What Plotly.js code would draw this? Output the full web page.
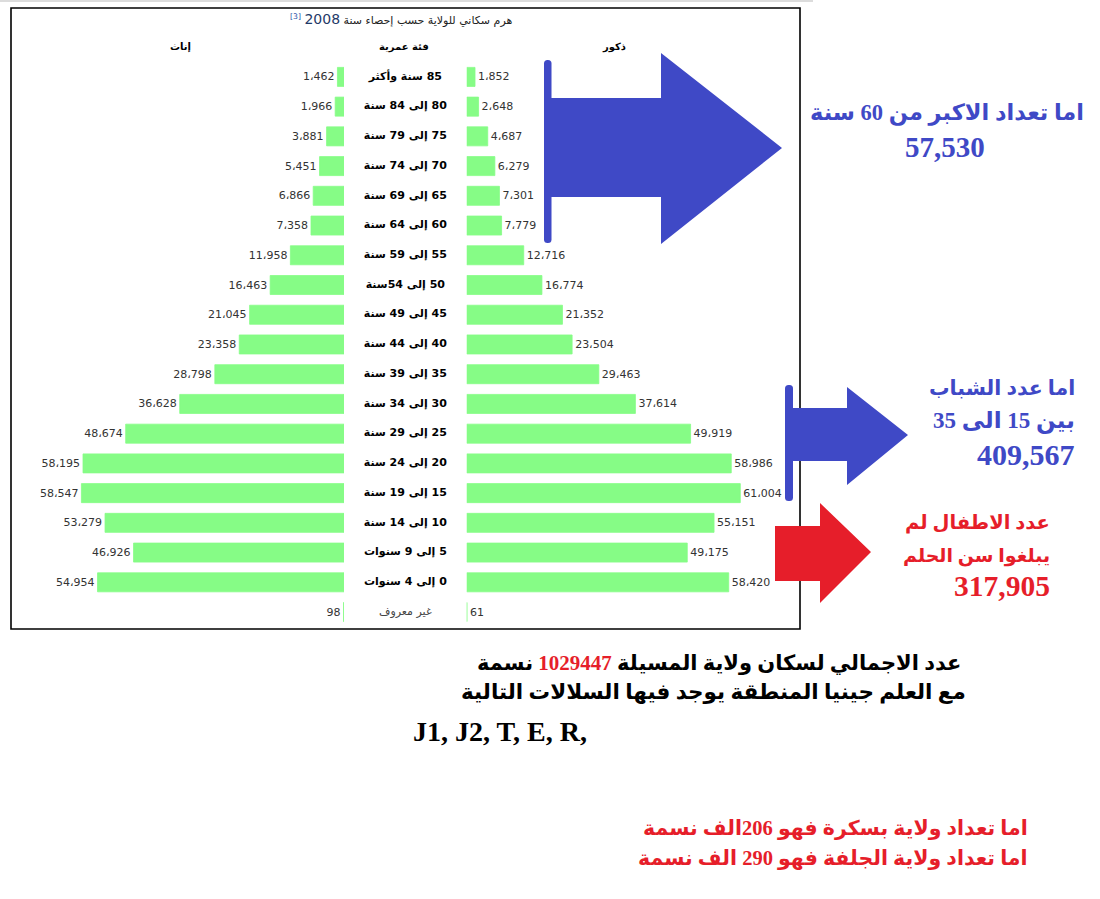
<!DOCTYPE html>
<html>
<head>
<meta charset="utf-8">
<script src="https://cdn.plot.ly/plotly-3.0.1.min.js"></script>
<style>html,body{margin:0;padding:0;background:#fff;}#chart{width:1100px;height:899px;}</style>
</head>
<body>
<div id="chart"></div>
<script>
// ---- data ----
const ageGroups = ['85 سنة وأكثر','80 إلى 84 سنة','75 إلى 79 سنة','70 إلى 74 سنة','65 إلى 69 سنة','60 إلى 64 سنة','55 إلى 59 سنة','50 إلى 54سنة','45 إلى 49 سنة','40 إلى 44 سنة','35 إلى 39 سنة','30 إلى 34 سنة','25 إلى 29 سنة','20 إلى 24 سنة','15 إلى 19 سنة','10 إلى 14 سنة','5 إلى 9 سنوات','0 إلى 4 سنوات','غير معروف'];
const females = [1462,1966,3881,5451,6866,7358,11958,16463,21045,23358,28798,36628,48674,58195,58547,53279,46926,54954,98];
const males   = [1852,2648,4687,6279,7301,7779,12716,16774,21352,23504,29463,37614,49919,58986,61004,55151,49175,58420,61];
const headerFemale = 'إناث';
const headerAge = 'فئة عمرية';
const headerMale = 'ذكور';
const chartTitle = 'هرم سكاني للولاية حسب إحصاء سنة';
const titleYear = '2008';
const titleRef = '[3]';

// ---- layout helpers ----
const W = 1100, H = 899;
const px = x => x / W;
const py = y => 1 - y / H;
const SCALE = 4.485 / 1000;   // pixels per person
const ROW0 = 76.9, ROWSTEP = 29.73;
const RLM = '\u200F';

const green = '#86fc86';
const blue = '#3f49c6';
const red = '#e61e2a';
const numFont = {family: 'DejaVu Sans, Tahoma, sans-serif', size: 11, color: '#333'};

const nMain = ageGroups.length - 1;
const rtl = s => RLM + s;

const traces = [
  {type:'bar', orientation:'h', y: ageGroups, x: females, xaxis:'x', yaxis:'y',
   marker:{color: green, line:{color: green, width: 0.8}}, width: 0.64,
   texttemplate:'%{x:,}', textposition:'outside', textfont: numFont,
   constraintext:'none', cliponaxis:false, hoverinfo:'none', showlegend:false},
  {type:'bar', orientation:'h', y: ageGroups, x: males, xaxis:'x2', yaxis:'y',
   marker:{color: green, line:{color: green, width: 0.8}}, width: 0.64,
   texttemplate:'%{x:,}', textposition:'outside', textfont: numFont,
   constraintext:'none', cliponaxis:false, hoverinfo:'none', showlegend:false},
  {type:'scatter', mode:'text', xaxis:'x3', yaxis:'y',
   y: ageGroups.slice(0, nMain), x: ageGroups.slice(0, nMain).map(() => 0.5),
   text: ageGroups.slice(0, nMain).map(rtl),
   textfont:{family:'DejaVu Sans, sans-serif', size:11, color:'#000', weight:'bold'},
   hoverinfo:'none', showlegend:false, cliponaxis:false},
  {type:'scatter', mode:'text', xaxis:'x3', yaxis:'y',
   y: ageGroups.slice(nMain), x: ageGroups.slice(nMain).map(() => 0.5),
   text: ageGroups.slice(nMain).map(rtl),
   textfont:{family:'DejaVu Sans, sans-serif', size:11, color:'#444'},
   hoverinfo:'none', showlegend:false, cliponaxis:false}
];

function rectRound(x0,y0,x1,y1,r){
  return `M${px(x0+r)},${py(y0)} L${px(x1-r)},${py(y0)} Q${px(x1)},${py(y0)} ${px(x1)},${py(y0+r)} ` +
         `L${px(x1)},${py(y1-r)} Q${px(x1)},${py(y1)} ${px(x1-r)},${py(y1)} L${px(x0+r)},${py(y1)} ` +
         `Q${px(x0)},${py(y1)} ${px(x0)},${py(y1-r)} L${px(x0)},${py(y0+r)} Q${px(x0)},${py(y0)} ${px(x0+r)},${py(y0)} Z`;
}
function poly(pts){
  return 'M' + pts.map(p => px(p[0]) + ',' + py(p[1])).join(' L') + ' Z';
}
const shapeBase = {type:'path', xref:'paper', yref:'paper', line:{width:0}, layer:'above'};

const shapes = [
  {type:'line', xref:'paper', yref:'paper', x0:px(0), x1:px(813), y0:py(1), y1:py(1), line:{color:'#dcdcdc', width:2}, layer:'below'},
  {type:'rect', xref:'paper', yref:'paper', x0:px(11), x1:px(800), y0:py(8), y1:py(629), line:{color:'#000', width:1.6}, layer:'below'},
  // big blue arrow
  Object.assign({}, shapeBase, {path: rectRound(544,60,551.5,243,3.5), fillcolor: blue}),
  Object.assign({}, shapeBase, {path: poly([[551,98],[661,98],[661,53],[782,148],[661,244],[661,197],[551,197]]), fillcolor: blue}),
  // second blue arrow
  Object.assign({}, shapeBase, {path: rectRound(785,385,793,501,3.5), fillcolor: blue}),
  Object.assign({}, shapeBase, {path: poly([[792,408],[847,408],[847,387],[908,435],[847,485],[847,461],[792,461]]), fillcolor: blue}),
  // red arrow
  Object.assign({}, shapeBase, {path: poly([[775,526],[820,526],[820,503],[871,552],[820,603],[820,581],[775,581]]), fillcolor: red})
];

function ann(text, x, y, font, xanchor){
  return {text, xref:'paper', yref:'paper', x:px(x), y:py(y), xanchor: xanchor || 'center', yanchor:'middle',
          showarrow:false, font, align: xanchor === 'right' ? 'right' : (xanchor === 'left' ? 'left' : 'center')};
}
const bigSerif = (size, color) => ({family:'Liberation Serif, Times New Roman, DejaVu Sans, serif', size, color, weight:'bold'});

const annotations = [
  ann(chartTitle + ' <span style="color:#1f3a68;font-size:14px">' + titleYear + '</span> <sup><span style="color:#1d4fa8">' + titleRef + '</span></sup>',
      401, 19, {family:'DejaVu Sans, sans-serif', size:11, color:'#222'}),
  ann(headerFemale, 180, 47, {family:'DejaVu Sans, sans-serif', size:10, color:'#000', weight:'bold'}),
  ann(headerAge, 404, 47, {family:'DejaVu Sans, sans-serif', size:10, color:'#000', weight:'bold'}),
  ann(headerMale, 614, 47, {family:'DejaVu Sans, sans-serif', size:10, color:'#000', weight:'bold'}),

  ann('اما تعداد الاكبر من 60 سنة', 947, 113, bigSerif(22.5, blue)),
  ann('57,530', 945, 147, bigSerif(29, blue)),

  ann('اما عدد الشباب', 1077, 388, bigSerif(20.5, blue), 'right'),
  ann('بين 15 الى 35', 1077, 421, bigSerif(23, blue), 'right'),
  ann('409,567', 1077, 454, bigSerif(30, blue), 'right'),

  ann('عدد الاطفال لم', 1052, 523, bigSerif(19.5, red), 'right'),
  ann('يبلغوا سن الحلم', 1052, 556, bigSerif(19, red), 'right'),
  ann('317,905', 1052, 586, bigSerif(29.5, red), 'right'),

  ann('عدد الاجمالي لسكان ولاية المسيلة <span style="color:' + red + '">1029447</span> نسمة', 963, 663, bigSerif(21, '#000'), 'right'),
  ann('مع العلم جينيا المنطقة يوجد فيها السلالات التالية', 968, 692, bigSerif(21.5, '#000'), 'right'),
  ann('J1, J2, T, E, R,', 411, 731, bigSerif(28, '#000'), 'left'),

  ann('اما تعداد ولاية بسكرة فهو 206الف نسمة', 1030, 828, bigSerif(20.5, red), 'right'),
  ann('اما تعداد ولاية الجلفة فهو 290 الف نسمة', 1030, 858, bigSerif(20.5, red), 'right')
];

const hidden = {visible:false, showgrid:false, zeroline:false, fixedrange:true};
const layout = {
  width: W, height: H,
  margin:{l:0, r:0, t:0, b:0, pad:0},
  paper_bgcolor:'#fff', plot_bgcolor:'rgba(0,0,0,0)',
  separators: '.\u060C',
  showlegend:false,
  barmode:'overlay',
  xaxis: Object.assign({}, hidden, {domain:[0, 344/W], range:[344/SCALE, 0]}),
  xaxis2: Object.assign({}, hidden, {domain:[466.7/W, 1], range:[0, (W-466.7)/SCALE], anchor:'y'}),
  xaxis3: Object.assign({}, hidden, {domain:[344/W, 466.7/W], range:[0, 1], anchor:'y'}),
  yaxis: Object.assign({}, hidden, {type:'category', range:[(H-ROW0)/ROWSTEP, -ROW0/ROWSTEP], domain:[0,1]}),
  shapes, annotations
};

Plotly.newPlot('chart', traces, layout, {staticPlot:true, displayModeBar:false});
</script>
</body>
</html>
